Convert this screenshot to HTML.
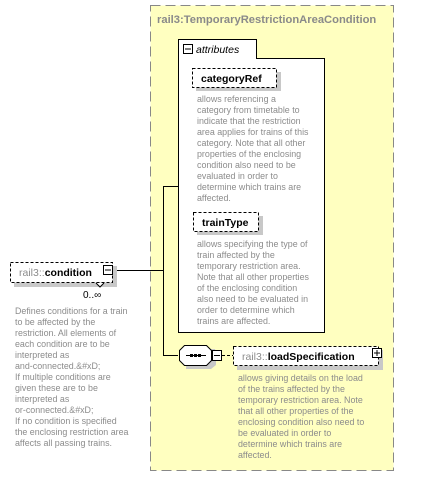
<!DOCTYPE html>
<html><head><meta charset="utf-8"><style>
html,body{margin:0;padding:0;background:#fff;width:436px;height:477px;overflow:hidden}
svg{display:block}
text{font-family:"Liberation Sans",sans-serif}
.d{font-size:8.9px;fill:#8c8c8c}
.b{font-size:10.5px;font-weight:bold;fill:#000}
.g{font-size:10.5px;fill:#8c8c8c}
</style></head><body>
<svg width="436" height="477" viewBox="0 0 436 477" xmlns="http://www.w3.org/2000/svg">
<rect x="150.5" y="5.5" width="243" height="465" fill="#ffffc0" stroke="#888" stroke-dasharray="10,5"/>
<text x="157" y="23" style="font-size:11.2px;font-weight:bold;fill:#8a8a8a">rail3:TemporaryRestrictionAreaCondition</text>
<!-- attributes -->
<path d="M178.5 59.5 V39.5 H256.5 V59.5" fill="#fff" stroke="#000"/>
<rect x="178.5" y="58.5" width="146" height="274" fill="#fff" stroke="#000"/>
<rect x="179" y="58" width="77" height="2" fill="#fff"/>
<rect x="183.5" y="44.5" width="9" height="9" fill="#fff" stroke="#000"/>
<line x1="185" y1="49" x2="191" y2="49" stroke="#000"/>
<text x="196" y="53" style="font-size:10.5px;font-style:italic;fill:#000">attributes</text>
<rect x="196" y="72" width="85" height="19" fill="#c8c8c8"/>
<rect x="192.5" y="68.5" width="84" height="19" fill="#fff" stroke="#000" stroke-dasharray="3,2"/>
<text x="201" y="82" class="b">categoryRef</text>
<g class="d">
<text x="197" y="102">allows referencing a</text>
<text x="197" y="113">category from timetable to</text>
<text x="197" y="124">indicate that the restriction</text>
<text x="197" y="135">area applies for trains of this</text>
<text x="197" y="146">category. Note that all other</text>
<text x="197" y="157">properties of the enclosing</text>
<text x="197" y="168">condition also need to be</text>
<text x="197" y="179">evaluated in order to</text>
<text x="197" y="190">determine which trains are</text>
<text x="197" y="201">affected.</text>
</g>
<rect x="197" y="216" width="66" height="19" fill="#c8c8c8"/>
<rect x="193.5" y="212.5" width="65" height="19" fill="#fff" stroke="#000" stroke-dasharray="3,2"/>
<text x="202" y="226" class="b">trainType</text>
<g class="d">
<text x="197" y="247">allows specifying the type of</text>
<text x="197" y="258">train affected by the</text>
<text x="197" y="269">temporary restriction area.</text>
<text x="197" y="280">Note that all other properties</text>
<text x="197" y="291">of the enclosing condition</text>
<text x="197" y="302">also need to be evaluated in</text>
<text x="197" y="313">order to determine which</text>
<text x="197" y="324">trains are affected.</text>
</g>
<!-- connectors -->
<path d="M117 270.5 H163.5 M163.5 186.5 H178 M163.5 186 V355.5 H178" fill="none" stroke="#000"/>
<!-- condition -->
<rect x="14" y="266" width="103" height="21" fill="#c8c8c8"/>
<rect x="10.5" y="262.5" width="102" height="20" fill="#fff" stroke="#000" stroke-dasharray="3,2"/>
<text x="19" y="276" class="g">rail3::<tspan class="b">condition</tspan></text>
<rect x="103.5" y="265.5" width="9" height="9" fill="#fff" stroke="#000"/>
<line x1="105" y1="270" x2="111" y2="270" stroke="#000"/>
<path d="M96 283 L100 287 L104 283" fill="#fff" stroke="#000"/>
<text x="83" y="298" style="font-size:10px;fill:#000">0..∞</text>
<g class="d">
<text x="15" y="314">Defines conditions for a train</text>
<text x="15" y="325">to be affected by the</text>
<text x="15" y="336">restriction. All elements of</text>
<text x="15" y="347">each condition are to be</text>
<text x="15" y="358">interpreted as</text>
<text x="15" y="369">and-connected.&amp;#xD;</text>
<text x="15" y="380">If multiple conditions are</text>
<text x="15" y="391">given these are to be</text>
<text x="15" y="402">interpreted as</text>
<text x="15" y="413">or-connected.&amp;#xD;</text>
<text x="15" y="424">If no condition is specified</text>
<text x="15" y="435">the enclosing restriction area</text>
<text x="15" y="446">affects all passing trains.</text>
</g>
<!-- sequence -->
<path d="M187 349 H215 L216 353 V365 L211 369 H186 Z" fill="#c8c8c8"/>
<path d="M184.5 345.5 H206.5 L211.5 350.5 V360.5 L206.5 365.5 H184.5 L179.5 360.5 V350.5 Z" fill="#fff" stroke="#000"/>
<line x1="186" y1="355.5" x2="206" y2="355.5" stroke="#000"/>
<rect x="190" y="354" width="3" height="3" fill="#000"/><rect x="194" y="354" width="3" height="3" fill="#000"/><rect x="198" y="354" width="3" height="3" fill="#000"/>
<rect x="212.5" y="350.5" width="9" height="10" fill="#fff" stroke="#000"/>
<line x1="214" y1="355.5" x2="220" y2="355.5" stroke="#000"/>
<line x1="222" y1="355.5" x2="233" y2="355.5" stroke="#000" stroke-dasharray="3,2"/>
<!-- loadSpecification -->
<rect x="237" y="350" width="146" height="20" fill="#c8c8c8"/>
<rect x="233.5" y="346.5" width="145" height="19" fill="#fff" stroke="#000" stroke-dasharray="3,2"/>
<text x="242" y="360" class="g">rail3::<tspan class="b">loadSpecification</tspan></text>
<rect x="372.5" y="348.5" width="9" height="9" fill="#fff" stroke="#000"/>
<path d="M374 353 H380 M377 350 V356" stroke="#000"/>
<g class="d">
<text x="238" y="381">allows giving details on the load</text>
<text x="238" y="392">of the trains affected by the</text>
<text x="238" y="403">temporary restriction area. Note</text>
<text x="238" y="414">that all other properties of the</text>
<text x="238" y="425">enclosing condition also need to</text>
<text x="238" y="436">be evaluated in order to</text>
<text x="238" y="447">determine which trains are</text>
<text x="238" y="458">affected.</text>
</g>
</svg>
</body></html>
